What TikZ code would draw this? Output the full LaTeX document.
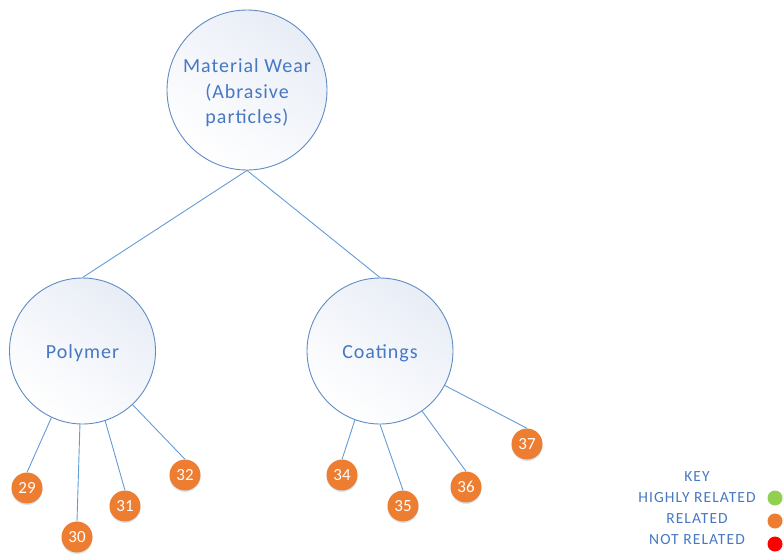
\documentclass[tikz,border=0pt]{standalone}
\usepackage{fontspec}
\setmainfont{Carlito}
\usetikzlibrary{shadows}
\definecolor{cstroke}{RGB}{96,140,196}
\definecolor{ctext}{RGB}{70,120,196}
\definecolor{cline}{RGB}{100,155,215}
\definecolor{corange}{RGB}{237,125,49}
\definecolor{cgreen}{RGB}{146,208,80}
\definecolor{cred}{RGB}{255,0,0}
\definecolor{cfill}{RGB}{232,237,246}
\definecolor{cshadow}{RGB}{190,210,235}
\newfontfamily\spacedfont[LetterSpace=5]{Carlito}
\newfontfamily\keyfont[LetterSpace=7]{Carlito}
\tikzset{
  bigc/.style={circle, draw=cstroke, line width=0.9pt, top color=cfill, bottom color=white, shading angle=-35,
    minimum size=#1, inner sep=0pt},
  bigtxt/.style={inner sep=0pt, text=ctext, font=\spacedfont\fontsize{20}{25.5}\selectfont, align=center},
  smallc/.style={circle, fill=corange, minimum size=31pt, inner sep=0pt, text=white,
    font=\fontsize{17}{17}\selectfont,
    drop shadow={fill=cshadow, opacity=0.6, shadow xshift=0pt, shadow yshift=-1.5pt}},
  conn/.style={draw=cline, line width=0.9pt},
  keytxt/.style={text=ctext, font=\keyfont\fontsize{15.5}{16}\selectfont, inner sep=0pt},
  keydot/.style={circle, minimum size=15pt, inner sep=0pt}
}
\begin{document}
\begin{tikzpicture}[x=1pt,y=-1pt]
\useasboundingbox (0,0) rectangle (783,555);
\node[bigc=160pt] (main) at (247,90) {};
\node[bigc=146pt] (poly) at (82.5,351) {};
\node[bigc=146pt] (coat) at (380,351) {};
\node[bigtxt] (maint) at ([yshift=-3pt]main.center) {Material Wear\\(Abrasive\\particles)};
\node[bigtxt] (polyt) at ([yshift=-2pt]poly.center) {Polymer};
\node[bigtxt] (coatt) at ([yshift=-2pt]coat.center) {Coatings};
\draw[conn] (main.south) -- (poly.north);
\draw[conn] (main.south) -- (coat.north);

\node[smallc] (n29) at (27,488) {29};
\node[smallc] (n30) at (77,537) {30};
\node[smallc] (n31) at (125,506) {31};
\node[smallc] (n32) at (185,475) {32};
\node[smallc] (n34) at (342,475) {34};
\node[smallc] (n35) at (403,506) {35};
\node[smallc] (n36) at (466,487) {36};
\node[smallc] (n37) at (527,444) {37};

\draw[conn] (poly.245) -- (n29.north);
\draw[conn] (poly.268) -- (n30.north);
\draw[conn] (poly.288) -- (n31.north);
\draw[conn] (poly.313) -- (n32.north);
\draw[conn] (coat.250) -- (n34.north);
\draw[conn] (coat.270) -- (n35.north);
\draw[conn] (coat.305) -- (n36.north);
\draw[conn] (coat.332) -- (n37.north);

\node[keytxt] (key) at (697,477) {KEY};
\node[keytxt] (k1) at (697,498) {HIGHLY RELATED};
\node[keytxt] (k2) at (697,519) {RELATED};
\node[keytxt] (k3) at (697,540) {NOT RELATED};
\node[keydot, fill=cgreen] (d1) at (775,498) {};
\node[keydot, fill=corange] (d2) at (775,521) {};
\node[keydot, fill=cred] (d3) at (775,544) {};
\end{tikzpicture}
\end{document}
